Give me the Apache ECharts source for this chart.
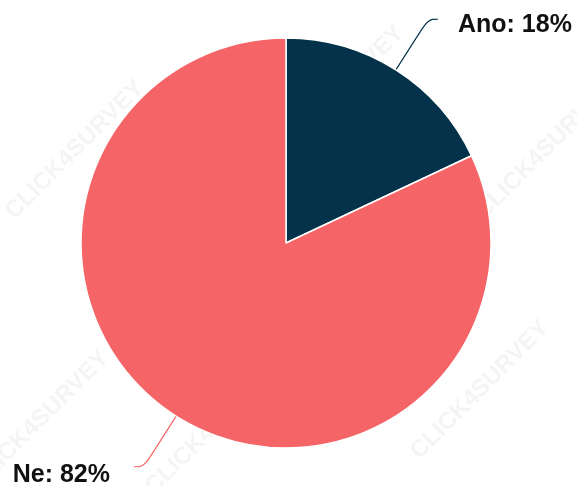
<!DOCTYPE html>
<html>
<head>
<meta charset="utf-8">
<style>
  html, body { margin: 0; padding: 0; background: #fff; }
  #chart { width: 577px; height: 486px; }
</style>
<script src="https://cdn.jsdelivr.net/npm/echarts@6/dist/echarts.min.js"></script>
</head>
<body>
<div id="chart"></div>
<script>
var categories = ['Ano', 'Ne'];
var percents = [18, 82];
var colors = ['#04324b', '#f56567'];
// how far each label text drops below its line end
var labelDrop = [6, 8];

// watermark spots (faint background text)
var marks = [[75, 150], [335, 95], [545, 150], [215, 425], [480, 390], [40, 420]];

var chart = echarts.init(document.getElementById('chart'));

var pieData = categories.map(function (name, i) {
  return { name: name, value: percents[i], itemStyle: { color: colors[i] } };
});
pieData[1].label = { distanceToLabelLine: 24 };

var graphics = marks.map(function (p) {
  return {
    type: 'text',
    x: p[0],
    y: p[1],
    rotation: Math.PI / 4,
    z: -10,
    silent: true,
    style: {
      text: 'CLICK4SURVEY',
      fill: 'rgba(0,0,0,0.045)',
      font: 'bold 24px "Liberation Sans", Arial, sans-serif',
      align: 'center',
      verticalAlign: 'middle'
    }
  };
});

var option = {
  animation: false,
  backgroundColor: '#fff',
  graphic: graphics,
  series: [{
    type: 'pie',
    center: [286, 243],
    radius: 205,
    startAngle: 90,
    clockwise: true,
    itemStyle: { borderColor: '#fff', borderWidth: 1.5 },
    label: {
      show: true,
      formatter: '{b}: {c}%',
      color: '#111',
      fontFamily: '"Liberation Sans", Arial, sans-serif',
      fontWeight: 'bold',
      fontSize: 25,
      overflow: 'none',
      distanceToLabelLine: 20
    },
    labelLine: {
      show: true,
      length: 60,
      length2: 10,
      smooth: 0.4,
      lineStyle: { width: 1.2 }
    },
    labelLayout: function (params) {
      return { dy: labelDrop[params.dataIndex] };
    },
    data: pieData
  }]
};

chart.setOption(option);
</script>
</body>
</html>
